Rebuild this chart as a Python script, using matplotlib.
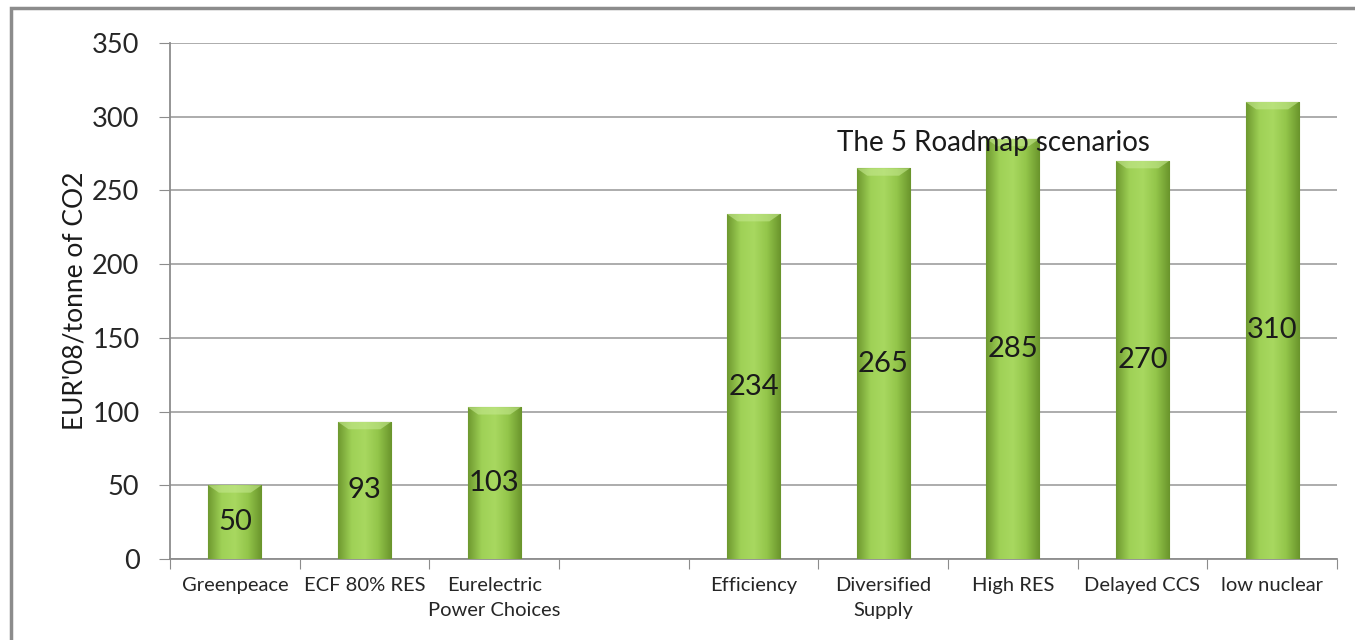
import numpy as np
import matplotlib
matplotlib.use("Agg")
import matplotlib.pyplot as plt
from matplotlib.colors import LinearSegmentedColormap
from matplotlib.patches import Rectangle

# Données
categories = ["Greenpeace", "ECF 80% RES", "Eurelectric\nPower Choices", "",
              "Efficiency", "Diversified\nSupply", "High RES", "Delayed CCS", "low nuclear"]
values = [50, 93, 103, None, 234, 265, 285, 270, 310]
yticks = [0, 50, 100, 150, 200, 250, 300, 350]
ylabel = "EUR'08/tonne of CO2"
annotation = "The 5 Roadmap scenarios"

plt.rcParams['font.family'] = ['Lato', 'DejaVu Sans']

fig = plt.figure(figsize=(13.55, 6.4), dpi=100)
ax = fig.add_axes([170 / 1355, 1 - 559 / 640, (1337 - 170) / 1355, (559 - 43) / 640])

# cadre gris autour du graphique
fig.patches.append(Rectangle((11 / 1355, -0.1), 1.2, 1 - 8 / 640 + 0.1,
                             transform=fig.transFigure, fill=False,
                             edgecolor='#8c8c8c', linewidth=2.5, zorder=0))

x = np.arange(len(categories))
heights = [v if v is not None else 0 for v in values]
bars = ax.bar(x, heights, width=0.41, color='#92c84a', edgecolor='#6e9a30',
              linewidth=0.8, zorder=3)

# dégradé horizontal pour imiter le rendu Excel
cmap = LinearSegmentedColormap.from_list("g", ["#6f9a30", "#9fd156", "#a8d860", "#93c54a", "#6a952c"])
grad = np.linspace(0, 1, 64).reshape(1, -1)
for b, v in zip(bars, values):
    if v is None:
        b.set_visible(False)
        continue
    x0, w, h = b.get_x(), b.get_width(), b.get_height()
    im = ax.imshow(grad, cmap=cmap, aspect='auto', extent=(x0, x0 + w, 0, h),
                   zorder=3.5)
    im.set_clip_path(b)
    # biseau clair en haut de la barre
    ax.fill([x0, x0 + w, x0 + w * 0.8, x0 + w * 0.2], [h, h, h - 5, h - 5],
            color='#c4e88e', alpha=0.6, lw=0, zorder=4)
    ax.text(x0 + w / 2, h / 2, str(v), ha='center', va='center',
            fontsize=21, color='#1a1a1a', zorder=5)

ax.text(5.85, 282, annotation, ha='center', va='center', fontsize=20,
        color='#1a1a1a', zorder=6)

ax.set_xlim(-0.5, len(categories) - 0.5)
ax.set_ylim(0, 350)
ax.set_yticks(yticks)
ax.tick_params(axis='y', labelsize=19.5, length=8, color='#8c8c8c', pad=14,
               labelcolor='#262626')
ax.set_ylabel(ylabel, fontsize=19, labelpad=3, color='#1a1a1a')

ax.set_xticks(np.arange(len(categories) + 1) - 0.5)
ax.set_xticklabels([])
ax.set_xticks(x, minor=True)
ax.set_xticklabels(categories, minor=True, fontsize=14.5, color='#262626',
                   linespacing=1.6)
ax.tick_params(axis='x', which='major', length=7, color='#8c8c8c')
ax.tick_params(axis='x', which='minor', length=0, pad=13)

ax.grid(axis='y', color='#a6a6a6', linewidth=1.3, zorder=0)
for s in ['top', 'right']:
    ax.spines[s].set_visible(False)
for s in ['left', 'bottom']:
    ax.spines[s].set_color('#8c8c8c')
    ax.spines[s].set_linewidth(1.3)

fig.savefig("out.png", dpi=100)
